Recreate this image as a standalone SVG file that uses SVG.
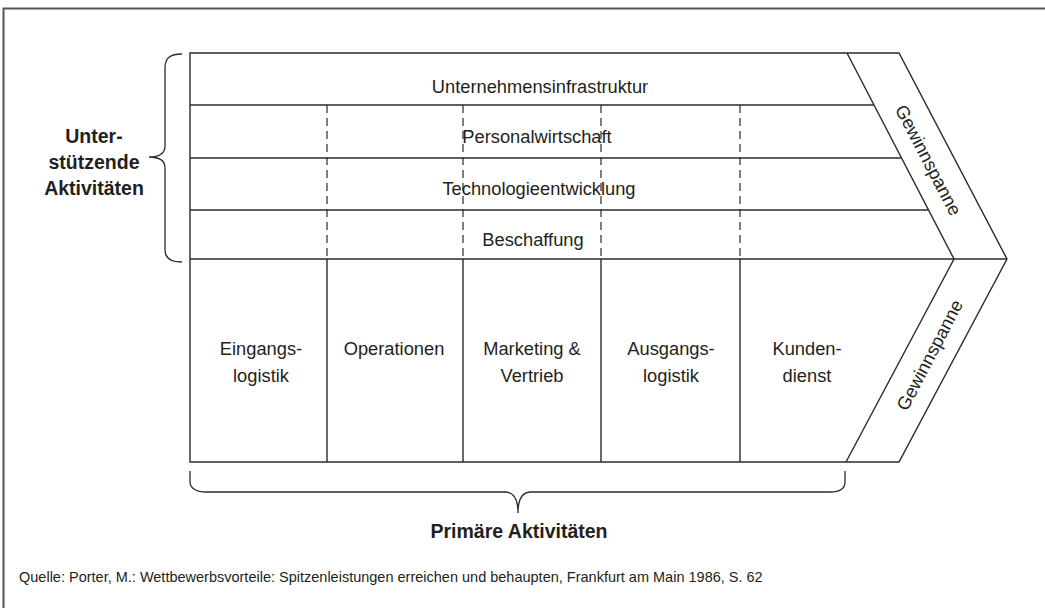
<svg xmlns="http://www.w3.org/2000/svg" width="1045" height="608" viewBox="0 0 1045 608">
<style>
 .ln{stroke:#2b2b2b;stroke-width:1.4;fill:none}
 .dash{stroke:#2b2b2b;stroke-width:1.2;stroke-dasharray:8 5;fill:none}
 .br{stroke:#2b2b2b;stroke-width:1.3;fill:none}
 .t{font-family:"Liberation Sans",Arial,sans-serif;font-size:18.3px;fill:#231f20;text-anchor:middle}
 .b{font-family:"Liberation Sans",Arial,sans-serif;font-size:19.5px;font-weight:bold;fill:#231f20;text-anchor:middle}
 .src{font-family:"Liberation Sans",Arial,sans-serif;font-size:14.5px;fill:#231f20}
</style>
<rect width="1045" height="608" fill="#ffffff"/>
<path d="M3.5,608 V8.5 H1045" stroke="#555" stroke-width="2" fill="none"/>

<g id="frame">
 <path class="ln" d="M190,53 H899 L1007,259 L899,462 H190 Z"/>
 <path class="ln" d="M847,53 L954,259 L846,462"/>
 <path class="ln" d="M190,259 H1007"/>
</g>

<g id="support-infrastruktur">
 <text class="t" x="540" y="93">Unternehmensinfrastruktur</text>
</g>
<g id="support-personal">
 <path class="ln" d="M190,105 H874"/>
 <text class="t" x="537" y="143">Personalwirtschaft</text>
</g>
<g id="support-technologie">
 <path class="ln" d="M190,158 H901"/>
 <text class="t" x="539" y="195">Technologieentwicklung</text>
</g>
<g id="support-beschaffung">
 <path class="ln" d="M190,210 H928"/>
 <text class="t" x="533" y="246">Beschaffung</text>
</g>

<g id="connectors">
 <path class="dash" d="M327,105 V259 M463,105 V259 M601,105 V259 M740,105 V259"/>
 <path class="ln" d="M327,259 V462 M463,259 V462 M601,259 V462 M740,259 V462"/>
</g>

<g id="primary-eingangslogistik">
 <text class="t" x="261" y="355">Eingangs-</text>
 <text class="t" x="261" y="382">logistik</text>
</g>
<g id="primary-operationen">
 <text class="t" x="394" y="355">Operationen</text>
</g>
<g id="primary-marketing">
 <text class="t" x="532" y="355">Marketing &amp;</text>
 <text class="t" x="532" y="382">Vertrieb</text>
</g>
<g id="primary-ausgangslogistik">
 <text class="t" x="671" y="355">Ausgangs-</text>
 <text class="t" x="671" y="382">logistik</text>
</g>
<g id="primary-kundendienst">
 <text class="t" x="807" y="355">Kunden-</text>
 <text class="t" x="807" y="382">dienst</text>
</g>

<g id="margin-top">
 <text class="t" transform="translate(928.5,160) rotate(62.5)" x="0" y="6.5">Gewinnspanne</text>
</g>
<g id="margin-bottom">
 <text class="t" transform="translate(929.5,355) rotate(-62.5)" x="0" y="6.5">Gewinnspanne</text>
</g>

<g id="support-label">
 <path class="br" d="M182,54 C170,54 165,58 165,68 L165,146 C165,153 160,157 149,157 C160,157 165,161 165,168 L165,250 C165,258 170,262 182,262"/>
 <text class="b" x="94" y="143">Unter-</text>
 <text class="b" x="94" y="169">stützende</text>
 <text class="b" x="94" y="195">Aktivitäten</text>
</g>

<g id="primary-label">
 <path class="br" d="M190,471 L190,482 C190,488 196,492 206,492 L505,492 C513,492 518,498 518,513 C518,498 523,492 531,492 L830,492 C840,492 845,488 845,482 L845,471"/>
 <text class="b" x="519" y="538">Primäre Aktivitäten</text>
</g>

<g id="source">
 <text class="src" x="19" y="582">Quelle: Porter, M.: Wettbewerbsvorteile: Spitzenleistungen erreichen und behaupten, Frankfurt am Main 1986, S. 62</text>
</g>
</svg>
